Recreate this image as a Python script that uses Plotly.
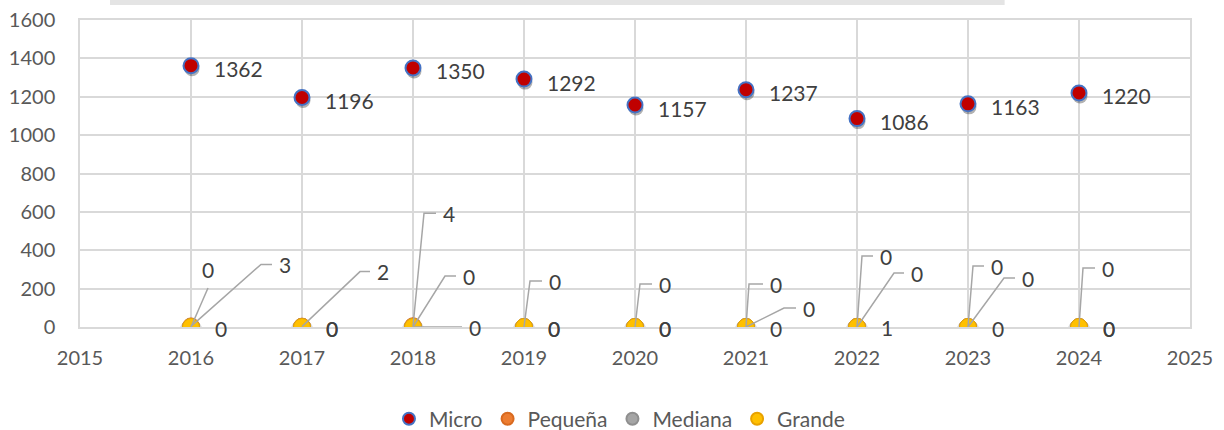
import plotly.graph_objects as go

# ---------------- data ----------------
years = [2016, 2017, 2018, 2019, 2020, 2021, 2022, 2023, 2024]
micro = [1362, 1196, 1350, 1292, 1157, 1237, 1086, 1163, 1220]
pequena = [3, 2, 4, 0, 0, 0, 1, 0, 0]
mediana = [0, 0, 0, 0, 0, 0, 0, 0, 0]
grande = [0, 0, 0, 0, 0, 0, 0, 0, 0]
series_names = ["Micro", "Pequeña", "Mediana", "Grande"]

# ---------------- style / layout ----------------
W, H = 1224, 430
ML, MR, MT, MB = 80, 34, 20, 103
X_RANGE = [2015, 2025]
Y_RANGE = [0, 1600]
PW = W - ML - MR
PH = H - MT - MB
px_x = (X_RANGE[1] - X_RANGE[0]) / PW   # data units per pixel (x)
px_y = (Y_RANGE[1] - Y_RANGE[0]) / PH   # data units per pixel (y)

FONT = "Lato, 'Open Sans', sans-serif"
LABEL_COLOR = "#404040"
TICK_COLOR = "#595959"
GRID = "#d9d9d9"
LEADER = "#a6a6a6"

# label placements for the small series (pixel offsets: elbow dx, elbow dy(up), end dx)
# None -> default label at the right of the point
placements = {
    "Pequeña": [(70, 62, 81), (58, 55, 68), (11, 113, 23), None, None, (38, 19, 50), None, None, None],
    "Mediana": [("top", 17, 39), None, (32, 51, 43), (6, 46, 18), (5, 43, 17), (3, 43, 17), (5, 71, 16), (5, 61, 16), (4, 59, 16)],
    "Grande":  [None, None, (0, 0, 49), None, None, None, (37, 54, 47), (36, 49, 47), None],
}
small = {"Pequeña": pequena, "Mediana": mediana, "Grande": grande}

fig = go.Figure()

# shadows
fig.add_trace(go.Scatter(x=[x + 1 * px_x for x in years], y=[v - 3 * px_y for v in micro], mode="markers",
                         marker=dict(size=15, color="rgba(0,0,0,0.30)"), showlegend=False, hoverinfo="skip"))
for s, o, dy in ((23, 0.15, 4), (19, 0.45, 4)):
    fig.add_trace(go.Scatter(x=years, y=[v - dy * px_y for v in grande], mode="markers",
                             marker=dict(size=s, color=f"rgba(0,0,0,{o})"), showlegend=False, hoverinfo="skip"))

# main markers
fig.add_trace(go.Scatter(x=years, y=micro, mode="markers", name="Micro",
                         marker=dict(size=15, color="#c00000", line=dict(color="#4472c4", width=2))))
fig.add_trace(go.Scatter(x=years, y=pequena, mode="markers", name="Pequeña",
                         marker=dict(size=17, color="#ed7d31", line=dict(color="#d86a20", width=1))))
fig.add_trace(go.Scatter(x=years, y=mediana, mode="markers", name="Mediana",
                         marker=dict(size=17, color="#a5a5a5", line=dict(color="#8f8f8f", width=1))))
fig.add_trace(go.Scatter(x=years, y=grande, mode="markers", name="Grande",
                         marker=dict(size=17, color="#ffc000", line=dict(color="#e8a200", width=1))))

annotations = []
# Micro labels
for x, v in zip(years, micro):
    annotations.append(dict(x=x, y=v, xref="x", yref="y", text=str(v), showarrow=False,
                            xanchor="left", yanchor="middle", xshift=21, yshift=-3,
                            font=dict(family=FONT, size=21, color=LABEL_COLOR)))

# small series labels + leader lines
lx, ly = [], []
for name, vals in small.items():
    for i, (x, v) in enumerate(zip(years, vals)):
        p = placements[name][i]
        if p is None:
            annotations.append(dict(x=x, y=v, xref="x", yref="y", text=str(v), showarrow=False,
                                    xanchor="left", yanchor="middle", xshift=22, yshift=-1,
                                    font=dict(family=FONT, size=21, color=LABEL_COLOR)))
        elif p[0] == "top":
            _, dx, dy = p
            lx += [x, x + dx * px_x, None]
            ly += [v, v + dy * px_y, None]
            annotations.append(dict(x=x, y=v, xref="x", yref="y", text=str(v), showarrow=False,
                                    xanchor="center", yanchor="bottom", xshift=dx, yshift=dy + 4,
                                    font=dict(family=FONT, size=21, color=LABEL_COLOR)))
        else:
            edx, edy, endx = p
            lx += [x, x + edx * px_x, x + endx * px_x, None]
            ly += [v, v + edy * px_y, v + edy * px_y, None]
            annotations.append(dict(x=x, y=v, xref="x", yref="y", text=str(v), showarrow=False,
                                    xanchor="left", yanchor="middle", xshift=endx + 5, yshift=edy,
                                    font=dict(family=FONT, size=21, color=LABEL_COLOR)))

fig.add_trace(go.Scatter(x=lx, y=ly, mode="lines", line=dict(color=LEADER, width=1.5),
                         showlegend=False, hoverinfo="skip"))

fig.update_layout(
    width=W, height=H,
    margin=dict(l=ML, r=MR, t=MT, b=MB, autoexpand=False),
    paper_bgcolor="white", plot_bgcolor="white",
    font=dict(family=FONT, size=20, color=TICK_COLOR),
    annotations=annotations,
    showlegend=True,
    legend=dict(orientation="h", x=0.486, xanchor="center", y=-0.30, yanchor="middle",
                font=dict(family=FONT, size=21, color=TICK_COLOR), itemsizing="constant",
                traceorder="normal"),
    shapes=[dict(type="rect", xref="paper", yref="paper", x0=0.027, x1=0.833, y0=1.049, y1=1.09,
                 fillcolor="#e4e4e4", line=dict(width=0), layer="below")],
)
fig.update_xaxes(range=X_RANGE, dtick=1, tick0=2015, showgrid=True, gridcolor=GRID, gridwidth=1.5,
                 zeroline=False, showline=True, mirror=True, linecolor=GRID, linewidth=1.5,
                 ticks="outside", ticklen=12, tickcolor="rgba(0,0,0,0)", automargin=False,
                 tickfont=dict(family=FONT, size=20, color=TICK_COLOR))
fig.update_yaxes(range=Y_RANGE, dtick=200, showgrid=True, gridcolor=GRID, gridwidth=1.5,
                 zeroline=False, showline=True, mirror=True, linecolor=GRID, linewidth=1.5,
                 ticks="outside", ticklen=19, tickcolor="rgba(0,0,0,0)", automargin=False,
                 ticklabeloverflow="allow",
                 tickfont=dict(family=FONT, size=20, color=TICK_COLOR))

fig.write_html("out.html", config={"displayModeBar": False},
               post_script="document.body.style.margin='0';document.body.style.overflow='hidden';")
